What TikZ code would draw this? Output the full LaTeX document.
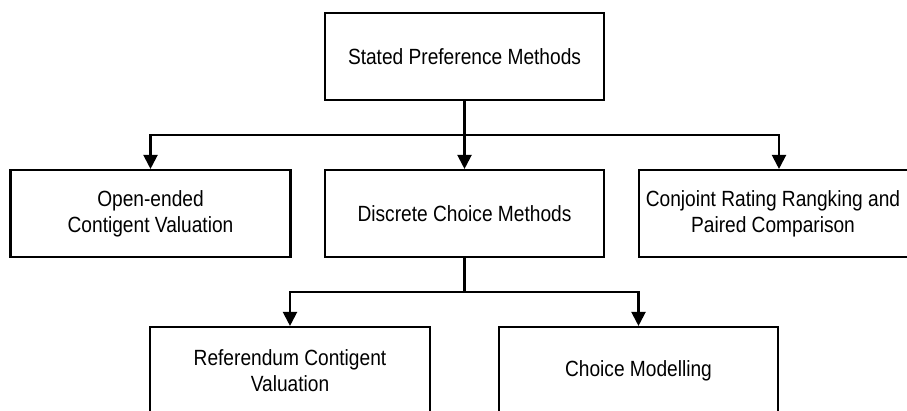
\documentclass[tikz,border=0pt]{standalone}
\usepackage{fontspec}
\setmainfont{Liberation Sans}[FakeStretch=0.87]
\usetikzlibrary{arrows.meta}
\begin{document}
\begin{tikzpicture}[x=1pt,y=-1pt,
  box/.style={draw=black,line width=2.1pt,fill=white,minimum height=87pt,inner sep=0pt,
    align=center,font=\fontsize{22}{25.7}\selectfont},
  conn/.style={line width=2.1pt,draw=black},
  arr/.style={conn,-{Triangle[width=14pt,length=14pt]}}]
\useasboundingbox (0,0) rectangle (907,411);
\clip (0,0) rectangle (907,411);
\node[box,minimum width=279pt] (top) at (464.5,56.5) {Stated Preference Methods};
\node[box,minimum width=280pt] (open) at (150.5,213.5) {Open-ended\\Contigent Valuation};
\node[box,minimum width=279pt] (disc) at (464.5,213.5) {Discrete Choice Methods};
\node[box,minimum width=280pt] (conj) at (779,213.5) {\hspace*{-12pt}Conjoint Rating Rangking and\\\hspace*{-12pt}Paired Comparison};
\node[box,minimum width=280pt] (ref) at (290,370.5) {Referendum Contigent\\Valuation};
\node[box,minimum width=279pt] (cm) at (638.5,370.5) {Choice Modelling};
\coordinate (j1) at (464.5,135);
\coordinate (j2) at (464.5,292);
\draw[conn] (top.south) -- (j1);
\draw[arr] (j1) -| (open.north);
\draw[arr] (j1) -- (disc.north);
\draw[arr] (j1) -| (conj.north);
\draw[conn] (disc.south) -- (j2);
\draw[arr] (j2) -| (ref.north);
\draw[arr] (j2) -| (cm.north);
\end{tikzpicture}
\end{document}
